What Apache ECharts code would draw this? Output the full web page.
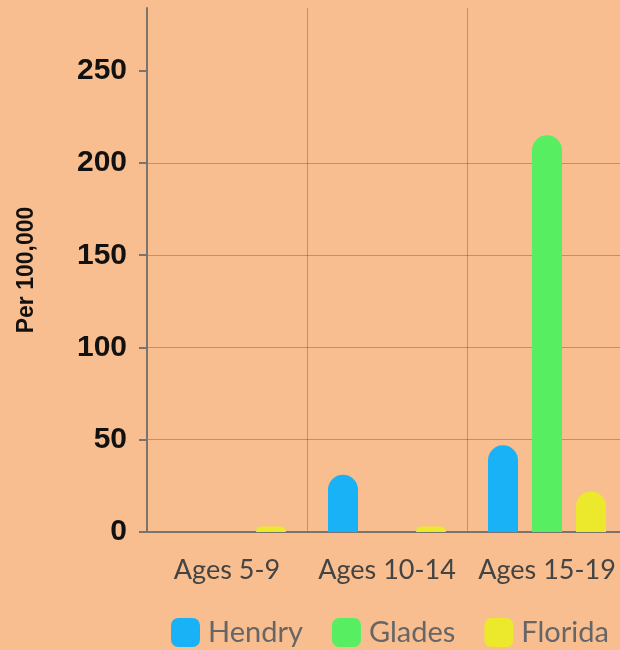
<!DOCTYPE html>
<html>
<head>
<meta charset="utf-8">
<script src="https://cdn.jsdelivr.net/npm/echarts@6/dist/echarts.min.js"></script>
<style>
  html, body, #main { width: 620px; height: 650px; margin: 0; background: #f9be8f; }
</style>
</head>
<body>
<div id="main"></div>
<script>
var categories = ['Ages 5-9', 'Ages 10-14', 'Ages 15-19'];
var hendry = [0, 31, 47];
var glades = [0, 0, 215];
var florida = [3, 3, 22];
var yTicks = [0, 50, 100, 150, 200, 250];

var chart = echarts.init(document.getElementById('main'));
var numFont = "'Liberation Sans Narrow', 'Liberation Sans', sans-serif";

function bar(name, data, color) {
    return {
        name: name,
        type: 'bar',
        data: data,
        barWidth: 30,
        barGap: '46.7%',
        itemStyle: { color: color, borderRadius: [15, 15, 0, 0] }
    };
}

chart.setOption({
    backgroundColor: '#f9be8f',
    animation: false,
    grid: { left: 147, top: 8, width: 480, bottom: 118, containLabel: false, outerBoundsMode: 'none' },
    legend: {
        left: 166,
        top: 613,
        width: 800,
        itemWidth: 29,
        itemHeight: 29,
        itemGap: 29,
        icon: 'roundRect',
        textStyle: { fontFamily: 'Lato', fontSize: 29, color: '#666', padding: [0, 0, 0, 3] },
        data: ['Hendry', 'Glades', 'Florida']
    },
    xAxis: {
        type: 'category',
        data: categories,
        axisLine: { lineStyle: { color: '#7b746b', width: 2 } },
        axisTick: { alignWithLabel: true, interval: 0, length: 6, lineStyle: { color: '#7b746b', width: 2 } },
        axisLabel: { interval: 0, hideOverlap: false, fontFamily: 'Lato', fontSize: 27, color: '#444', margin: 25 },
        splitLine: { show: true, interval: 0, lineStyle: { color: 'rgba(60,40,20,0.3)', width: 1 } }
    },
    yAxis: {
        type: 'value',
        min: 0,
        max: 284,
        interval: 50,
        name: 'Per 100,000',
        nameLocation: 'middle',
        nameGap: 109,
        nameTextStyle: { fontFamily: numFont, fontWeight: 'bold', fontSize: 23, color: '#111' },
        axisLine: { show: true, lineStyle: { color: '#7b746b', width: 2 } },
        axisTick: { show: true, length: 8, customValues: yTicks, lineStyle: { color: '#7b746b', width: 2 } },
        axisLabel: { customValues: yTicks, fontFamily: numFont, fontWeight: 'bold', fontSize: 30, color: '#111', margin: 20 },
        splitLine: { showMaxLine: false, lineStyle: { color: 'rgba(60,40,20,0.3)', width: 1 } }
    },
    series: [
        bar('Hendry', hendry, '#1ab2f7'),
        bar('Glades', glades, '#57ee62'),
        bar('Florida', florida, '#ece92c')
    ]
});
</script>
</body>
</html>
